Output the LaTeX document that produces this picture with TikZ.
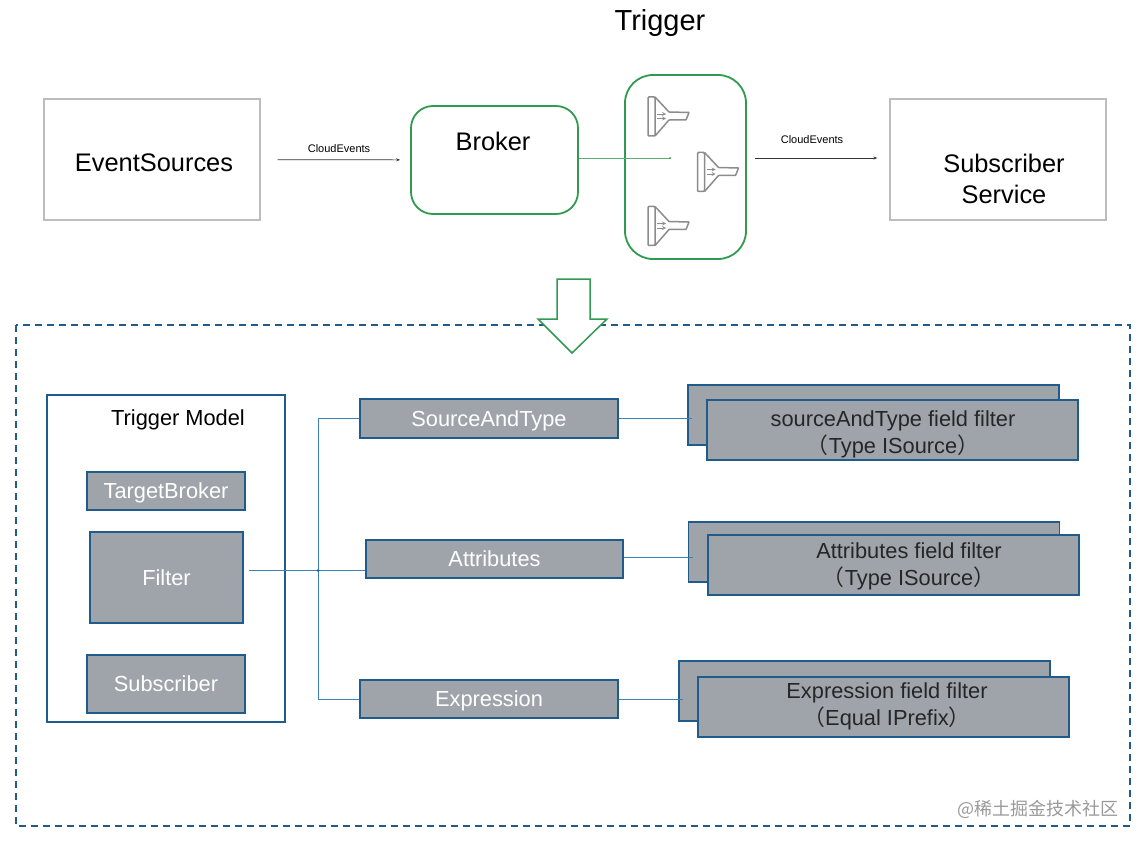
\documentclass[tikz,border=0pt]{standalone}
\usepackage{xcolor}
\usepackage{fontspec}
\setmainfont{Liberation Sans}
\newfontfamily\cjk{Noto Sans CJK SC}
\usepackage{tikz}
\usetikzlibrary{arrows.meta, positioning, calc}

\definecolor{boxgreen}{HTML}{2F9A50}
\definecolor{boxblue}{HTML}{1F5C8C}
\definecolor{wireblue}{HTML}{3D82B5}
\definecolor{boxgrey}{HTML}{9FA4AB}
\definecolor{framegrey}{HTML}{BDBDBD}
\definecolor{icongrey}{HTML}{8C8C8C}

\newcommand{\fsize}[1]{\fontsize{#1}{#1}\selectfont\setlength{\baselineskip}{1.24\baselineskip}}

\tikzset{
    plainbox/.style={draw=framegrey, line width=1.2pt, fill=white, inner sep=0pt, align=center, font=\fsize{25.4}},
    greenbox/.style={draw=boxgreen, line width=1.8pt, fill=white, inner sep=0pt},
    greybox/.style={draw=boxblue, line width=1.5pt, fill=boxgrey, inner sep=0pt, text=white, font=\fsize{21.8}, text height=15pt, text depth=0pt},
    filterbox/.style={greybox, minimum width=371pt, minimum height=60pt},
    fieldtext/.style={align=center, text=black!85, font=\fsize{21.8}, inner sep=0pt},
    wire/.style={draw=wireblue, line width=0.9pt},
    eventarrow/.style={-{Stealth[length=4pt,width=3pt]}, draw=black!80, line width=0.7pt},
    smalltext/.style={font=\fsize{11}, inner sep=0pt},
    pics/filtericon/.style={code={
        \draw[icongrey, line width=1.5pt, rounded corners=1pt] (0,0) rectangle (7,39);
        \draw[icongrey, line width=1.5pt, rounded corners=0.5pt] (7,0) -- (21,15) -- (41,15.5) -- (38,23) -- (21,23) -- (7,39);
        \draw[icongrey, line width=0.7pt, ->, >=stealth] (9,17) -- (18,17);
        \draw[icongrey, line width=0.7pt, ->, >=stealth] (9,21.5) -- (18,21.5);
    }}
}

\begin{document}
\begin{tikzpicture}[x=1pt, y=-1pt]
    \useasboundingbox (0,0) rectangle (1142,842);

    % Top row
    \node[font=\fsize{29}, inner sep=0pt] (title) at (660,23) {Trigger};
    \node[plainbox, minimum width=216pt, minimum height=121pt] (sources) at (152,159.5) {};
    \node[font=\fsize{25.4}, inner sep=0pt] (sourcestext) at (154,163) {EventSources};
    \node[greenbox, rounded corners=22pt, minimum width=167pt, minimum height=108pt] (broker) at (494.5,160) {};
    \node[font=\fsize{25.4}, inner sep=0pt] (brokertext) at (493,141) {Broker};
    \node[greenbox, rounded corners=28pt, minimum width=121pt, minimum height=184pt] (trigger) at (685.5,167) {};
    \node[plainbox, minimum width=216pt, minimum height=121pt] (subscriber) at (998,159.5) {};
    \node[align=center, font=\fsize{25.4}, inner sep=0pt] (subscribertext) at (1004,179) {Subscriber\\Service};

    % Filter icons
    \pic at (648,97) {filtericon};
    \pic at (697.5,152.5) {filtericon};
    \pic at (648,206.5) {filtericon};

    % Top connectors
    \coordinate (brokerout) at (670,158);
    \draw[boxgreen!80, line width=0.8pt] (broker.east |- brokerout) -- (brokerout);
    \fill[boxgreen] (brokerout) circle (1pt);
    \draw[eventarrow, shorten <=17pt, shorten >=10pt] (sources) -- (broker);
    \draw[eventarrow, shorten <=8pt, shorten >=12pt] ([yshift=1.5pt]trigger.east |- subscriber) -- ([yshift=1.5pt]subscriber.west);
    \node[smalltext] (eventsleft) at (339,148.5) {CloudEvents};
    \node[smalltext] (eventsright) at (812,140) {CloudEvents};

    % Dashed frame and block arrow
    \draw[boxblue, line width=1.5pt, dash pattern=on 7pt off 5pt] (16,325) rectangle (1130,826);
    \draw[boxgreen, line width=1.5pt, fill=white] (557,279) -- (590,279) -- (590,319) -- (607,319) -- (572,353) -- (538,319) -- (557,319) -- cycle;

    % Trigger model
    \node[draw=boxblue, line width=1.5pt, fill=white, minimum width=238pt, minimum height=327pt, inner sep=0pt] (model) at (166,558.5) {};
    \node[font=\fsize{21.8}, inner sep=0pt] (modeltext) at (178,419.5) {Trigger Model};
    \node[greybox, minimum width=158pt, minimum height=38pt] (targetbroker) at (166,491) {TargetBroker};
    \node[greybox, minimum width=153pt, minimum height=91pt] (filter) at (166.5,577.5) {Filter};
    \node[greybox, minimum width=158pt, minimum height=58pt] (subscribermodel) at (166,684) {Subscriber};

    % Filter kinds
    \node[greybox, minimum width=258pt, minimum height=39pt] (sourcetype) at (489,418.5) {SourceAndType};
    \node[greybox, minimum width=257pt, minimum height=38pt] (attributes) at (494.5,559) {Attributes};
    \node[greybox, minimum width=258pt, minimum height=38pt] (expression) at (489,699) {Expression};

    % Field filters, back box first
    \node[filterbox] (sourcetypeback) at (873.5,415) {};
    \node[filterbox] (attributesback) at (874,552) {};
    \node[filterbox] (expressionback) at (864.5,691) {};

    % Wires
    \coordinate (junction) at (318,570.5);
    \draw[wire, shorten <=5pt] (filter.east |- junction) -- (junction -| attributes.west);
    \draw[wire] (sourcetype.west) -| (junction);
    \draw[wire] (expression.west) -| (junction);
    \fill[boxblue] (junction) circle (1.3pt);
    \draw[wire, shorten >=-5pt] (sourcetype.east) -- (sourcetype.east -| sourcetypeback.west);
    \draw[wire, shorten >=-5pt] ([yshift=2pt]attributes.east) -- ([yshift=2pt]attributes.east -| attributesback.west);
    \draw[wire, shorten >=-5pt] (expression.east) -- (expression.east -| expressionback.west);

    % Field filters, front box
    \node[filterbox] (sourcetypefront) at (892.5,430) {};
    \node[fieldtext] (sourcetypetext) at (893,434) {sourceAndType field filter\\{\cjk （}Type ISource{\cjk ）}};
    \node[filterbox] (attributesfront) at (893.5,565) {};
    \node[fieldtext] (attributestext) at (909,566) {Attributes field filter\\{\cjk （}Type ISource{\cjk ）}};
    \node[filterbox] (expressionfront) at (883.5,707) {};
    \node[fieldtext] (expressiontext) at (887,706) {Expression field filter\\{\cjk （}Equal IPrefix{\cjk ）}};

    % Watermark
    \node[text=black!40, font=\cjk\fsize{18}, inner sep=0pt] (watermark) at (1038,809) {@稀土掘金技术社区};
\end{tikzpicture}
\end{document}
